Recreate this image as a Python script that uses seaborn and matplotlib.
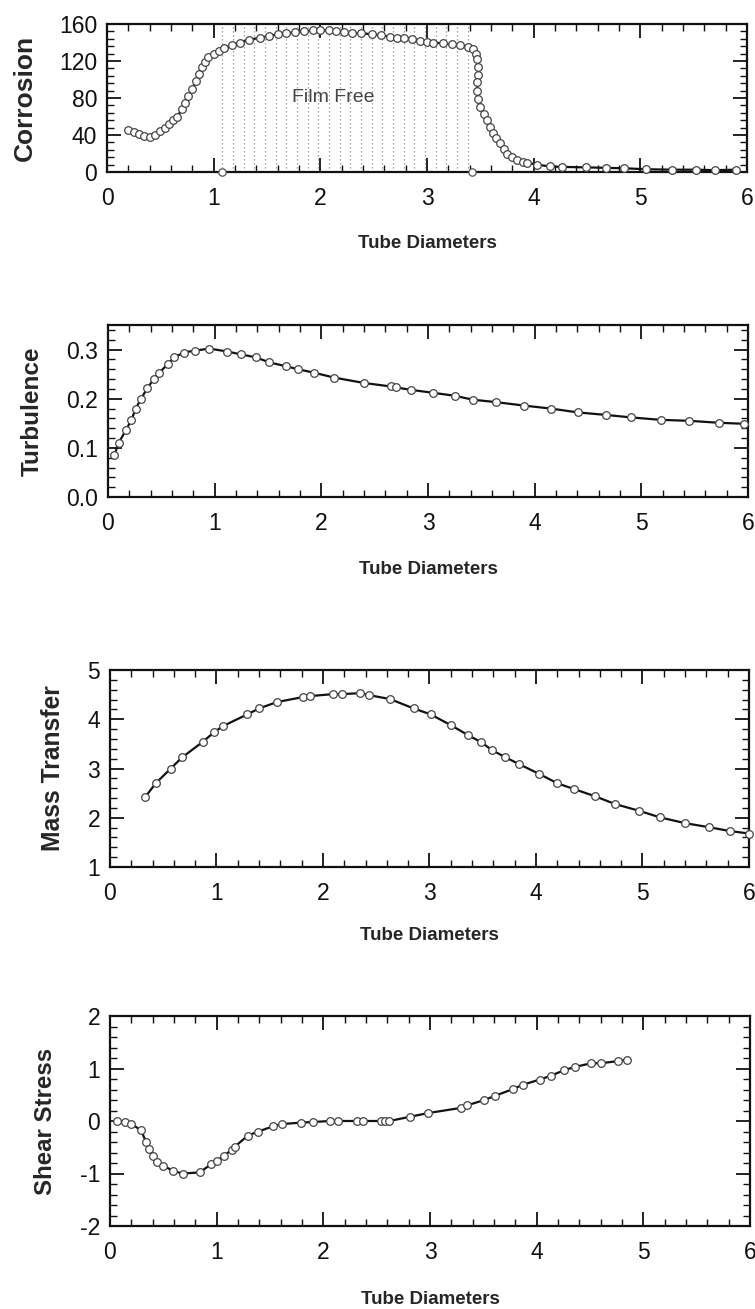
import numpy as np
import pandas as pd
import matplotlib
matplotlib.use("Agg")
import matplotlib.pyplot as plt
from matplotlib.ticker import MultipleLocator
import seaborn as sns

# ---------------- data ----------------
corr_x = [0.20, 0.25, 0.30, 0.35, 0.40, 0.45, 0.50, 0.54, 0.58, 0.62, 0.66, 0.70,
          0.73, 0.76, 0.80, 0.83, 0.86, 0.89, 0.92, 0.95, 1.00, 1.05, 1.10, 1.17,
          1.25, 1.33, 1.43, 1.52, 1.60, 1.68, 1.76, 1.85, 1.93, 2.00, 2.08, 2.15,
          2.22, 2.30, 2.38, 2.48, 2.57, 2.65, 2.72, 2.78, 2.86, 2.93, 3.00, 3.06,
          3.15, 3.23, 3.31, 3.38,
          3.43, 3.46, 3.47, 3.48, 3.48, 3.47, 3.47, 3.48, 3.50, 3.53, 3.56, 3.59,
          3.62, 3.65, 3.68, 3.72, 3.75, 3.80, 3.84, 3.90, 3.94,
          4.03, 4.15, 4.27, 4.49, 4.68, 4.85, 5.05, 5.30, 5.52, 5.70, 5.90]
corr_y = [45, 43, 41, 39, 38, 40, 44, 48, 52, 56, 60, 68,
          75, 82, 90, 98, 106, 113, 119, 124, 128, 131, 134, 137,
          140, 143, 145, 147, 149, 150, 151, 152, 153, 153, 153, 152,
          151, 150, 150, 149, 148, 146, 145, 145, 144, 142, 141, 140,
          139, 138, 137, 135,
          133, 128, 122, 114, 105, 97, 88, 79, 70, 63, 56, 49,
          42, 37, 31, 25, 20, 16, 13, 11, 10,
          8, 6, 5.5, 5, 4.5, 4, 3, 2.5, 2.5, 2, 2.5]
film_free_x = [1.08, 3.42]
film_free_y = [0, 0]

turb_x = [0.06, 0.10, 0.17, 0.22, 0.26, 0.31, 0.37, 0.43, 0.48, 0.56, 0.62, 0.71,
          0.82, 0.95, 1.12, 1.25, 1.39, 1.51, 1.67, 1.78, 1.93, 2.12, 2.40, 2.65,
          2.70, 2.84, 3.05, 3.25, 3.42, 3.64, 3.90, 4.15, 4.41, 4.67, 4.90, 5.18,
          5.45, 5.73, 5.96]
turb_y = [0.086, 0.110, 0.137, 0.157, 0.180, 0.200, 0.222, 0.240, 0.253, 0.270,
          0.284, 0.294, 0.298, 0.302, 0.296, 0.290, 0.284, 0.274, 0.266, 0.260,
          0.253, 0.243, 0.232, 0.225, 0.223, 0.218, 0.212, 0.206, 0.198, 0.193,
          0.186, 0.180, 0.172, 0.167, 0.162, 0.157, 0.155, 0.151, 0.149]

mass_x = [0.33, 0.43, 0.57, 0.68, 0.87, 0.98, 1.06, 1.29, 1.40, 1.57, 1.81, 1.88,
          2.09, 2.18, 2.35, 2.43, 2.63, 2.85, 3.01, 3.20, 3.36, 3.48, 3.59, 3.71,
          3.84, 4.03, 4.20, 4.36, 4.55, 4.74, 4.97, 5.16, 5.40, 5.62, 5.82, 6.00]
mass_y = [2.42, 2.70, 3.00, 3.23, 3.54, 3.74, 3.86, 4.10, 4.22, 4.35, 4.45, 4.47,
          4.51, 4.51, 4.53, 4.49, 4.41, 4.22, 4.10, 3.88, 3.68, 3.54, 3.37, 3.23,
          3.09, 2.89, 2.70, 2.58, 2.44, 2.28, 2.14, 2.01, 1.89, 1.81, 1.73, 1.68]

shear_x = [0.07, 0.14, 0.20, 0.29, 0.34, 0.37, 0.40, 0.44, 0.50, 0.59, 0.68, 0.84,
           0.95, 1.00, 1.07, 1.14, 1.17, 1.29, 1.39, 1.53, 1.61, 1.79, 1.90, 2.06,
           2.14, 2.32, 2.37, 2.54, 2.58, 2.62, 2.81, 2.98, 3.29, 3.35, 3.51, 3.61,
           3.78, 3.87, 4.03, 4.13, 4.26, 4.36, 4.51, 4.60, 4.76, 4.85]
shear_y = [0.00, -0.02, -0.05, -0.18, -0.40, -0.53, -0.66, -0.78, -0.85, -0.95,
           -1.00, -0.98, -0.82, -0.76, -0.66, -0.55, -0.49, -0.28, -0.20, -0.10,
           -0.06, -0.03, -0.02, 0.00, 0.00, 0.00, 0.00, 0.00, 0.00, 0.00, 0.08,
           0.15, 0.25, 0.30, 0.40, 0.48, 0.61, 0.69, 0.79, 0.86, 0.97, 1.03, 1.10,
           1.10, 1.14, 1.17]

panels = [
    dict(x=corr_x, y=corr_y, label="Corrosion", ylim=(0, 160), yticks=[0, 40, 80, 120, 160],
         ymin=8, fmt="{:.0f}"),
    dict(x=turb_x, y=turb_y, label="Turbulence", ylim=(0, 0.35), yticks=[0.0, 0.1, 0.2, 0.3],
         ymin=0.02, fmt="{:.1f}"),
    dict(x=mass_x, y=mass_y, label="Mass Transfer", ylim=(1, 5), yticks=[1, 2, 3, 4, 5],
         ymin=0.2, fmt="{:.0f}"),
    dict(x=shear_x, y=shear_y, label="Shear Stress", ylim=(-2, 2), yticks=[-2, -1, 0, 1, 2],
         ymin=0.2, fmt="{:.0f}"),
]

# ---------------- style ----------------
sns.set_style("ticks")
plt.rcParams["font.family"] = ["Liberation Sans", "DejaVu Sans"]

W, H = 755, 1309
fig = plt.figure(figsize=(W / 100, H / 100), dpi=100)

# axes boxes in pixels: left, top, right, bottom
boxes = [(107, 24, 747, 172), (108, 325, 748, 497), (110, 670, 749, 867), (110, 1016, 750, 1226)]
ylabel_cx = [25, 32, 53, 46]
ylabel_size = [19, 17.5, 17.7, 17.3]
xlabel_cy = [243, 569, 935, 1300]

for i, (p, (l, t, r, b)) in enumerate(zip(panels, boxes)):
    ax = fig.add_axes([l / W, 1 - b / H, (r - l) / W, (b - t) / H])
    df = pd.DataFrame({"x": p["x"], "y": p["y"]})
    if i == 0:
        # Film-free region hatching (dotted vertical lines)
        for xv in np.arange(film_free_x[0], film_free_x[1] + 0.001, 0.1):
            ax.axvline(xv, color="#8a8a8a", lw=0.9, ls=(0, (1, 2.2)), zorder=1)
        ax.text(2.12, 80, "Film Free", fontsize=14, color="#444444",
                ha="center", va="center", zorder=2)
        sns.scatterplot(x=film_free_x, y=film_free_y, ax=ax, marker="o", s=28,
                        facecolor="white", edgecolor="#555555", linewidth=0.9,
                        zorder=4, clip_on=False)
    sns.lineplot(data=df, x="x", y="y", ax=ax, sort=False, estimator=None,
                 color="#111111", lw=1.6, marker="o", markersize=5.5,
                 markerfacecolor="white", markeredgecolor="#444444",
                 markeredgewidth=0.9, zorder=3, clip_on=False)
    ax.set_xlim(0, 6)
    ax.set_ylim(*p["ylim"])
    ax.set_xticks(range(0, 7))
    ax.set_xticklabels([str(v) for v in range(0, 7)])
    ax.set_yticks(p["yticks"])
    ax.set_yticklabels([p["fmt"].format(v) for v in p["yticks"]])
    ax.xaxis.set_minor_locator(MultipleLocator(0.2))
    ax.yaxis.set_minor_locator(MultipleLocator(p["ymin"]))
    ax.tick_params(which="both", direction="in", top=True, right=True,
                   colors="#111111", labelcolor="#111111")
    ax.tick_params(which="major", length=10, width=1.3, labelsize=16.5)
    ax.tick_params(which="minor", length=5, width=1.0)
    ax.tick_params(axis="x", which="major", pad=11)
    ax.tick_params(axis="y", which="major", pad=7)
    for s in ax.spines.values():
        s.set_linewidth(1.6)
        s.set_color("#111111")
    ax.set_xlabel("Tube Diameters", fontsize=13.5, fontweight="bold", va="center")
    ax.xaxis.set_label_coords(0.5, -(xlabel_cy[i] - b) / (b - t))
    ax.set_ylabel(p["label"], fontsize=ylabel_size[i], fontweight="bold", va="center")
    ax.yaxis.set_label_coords((ylabel_cx[i] - l) / (r - l), 0.5)
    ax.grid(False)

fig.savefig("out.png", dpi=100, facecolor="white")
